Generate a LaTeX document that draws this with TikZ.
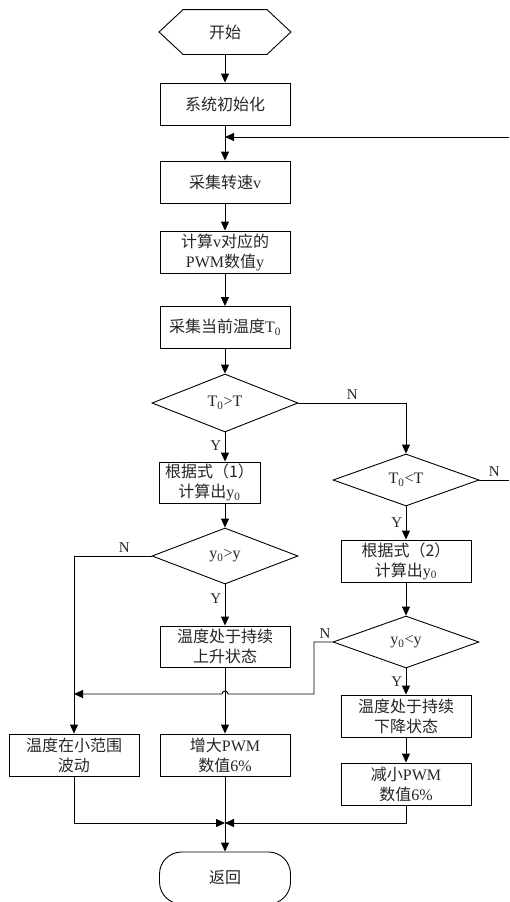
\documentclass[tikz,border=0pt]{standalone}
\usepackage{fontspec}
\setmainfont{Liberation Serif}
\newfontfamily\cjkfont{Noto Sans CJK SC}
\newcommand{\zh}[1]{{\cjkfont #1}}
\usetikzlibrary{shapes.geometric,arrows.meta}

\begin{document}
\begin{tikzpicture}[x=1pt,y=-1pt,line width=0.9pt,
  every node/.style={font=\fontsize{16pt}{20pt}\selectfont,text=black!85},
  box/.style={draw,rectangle,minimum width=130pt,minimum height=42pt,align=center,inner sep=1pt},
  test/.style={draw,diamond,aspect=2.5,inner sep=1pt,minimum width=146pt},
  arr/.style={-{Triangle[length=9pt,width=8pt]}},
  lbl/.style={font=\fontsize{15pt}{17pt}\selectfont}]

\useasboundingbox (0,0) rectangle (509,902);

\node[minimum width=131pt,minimum height=44pt] (start) at (225,32) {\zh{开始}};
\draw (start.west) -- ([xshift=24pt]start.north west) -- ([xshift=-24pt]start.north east)
  -- (start.east) -- ([xshift=-24pt]start.south east) -- ([xshift=24pt]start.south west) -- cycle;

\node[box] (init) at (225,104) {\zh{系统初始化}};
\coordinate (loopin) at (225,137);
\coordinate (loopedge) at (509,137);
\node[box] (speed) at (225,182) {\zh{采集转速}v};
\node[box] (pwm) at (225,252) {\zh{计算}v\zh{对应的}\\PWM\zh{数值}y};
\node[box] (temp) at (225,327.5) {\zh{采集当前温度}T\textsubscript{0}};

\node[test,minimum height=58pt] (cmpa) at (225,403) {T\textsubscript{0}>T};
\node[box,minimum width=101pt,minimum height=41pt] (calca) at (209.5,482.5) {\zh{根据式（1）}\\\zh{计算出}y\textsubscript{0}};
\node[test,minimum height=52pt] (cmpb) at (406,480) {T\textsubscript{0}<T};
\coordinate (edgeb) at (509,480);

\node[test,minimum height=56pt] (cmpc) at (225,556) {y\textsubscript{0}>y};
\node[box] (calcb) at (406,561) {\zh{根据式（2）}\\\zh{计算出}y\textsubscript{0}};
\node[test,minimum height=52pt] (cmpd) at (406,642) {y\textsubscript{0}<y};
\node[box,minimum height=41pt] (rise) at (225,646.5) {\zh{温度处于持续}\\\zh{上升状态}};
\node[box] (fall) at (406,716) {\zh{温度处于持续}\\\zh{下降状态}};
\coordinate (bend) at (314,694);
\coordinate (hop) at (225,694);

\node[box] (flat) at (74,755) {\zh{温度在小范围}\\\zh{波动}};
\node[box] (inc) at (225,755) {\zh{增大}PWM\\\zh{数值}6\%};
\node[box] (dec) at (406,784) {\zh{减小}PWM\\\zh{数值}6\%};
\coordinate (merge) at (225,823);
\node[draw,rounded corners=22pt,minimum width=131pt,minimum height=52pt] (ret) at (225,878) {\zh{返回}};

\draw[arr] (start) -- (init);
\draw[arr] (init) -- (speed);
\draw[arr] (loopedge) -- (loopin);
\draw[arr] (speed) -- (pwm);
\draw[arr] (pwm) -- (temp);
\draw[arr] (temp) -- (cmpa);

\draw[arr] (cmpa) -- node[lbl,left,pos=0.45] {Y} (cmpa |- calca.north);
\draw[arr] (cmpa.east) -- node[lbl,above] {N} (cmpa.east -| cmpb) -- (cmpb);
\draw (cmpb.east) -- node[lbl,above] {N} (edgeb);
\draw[arr] (cmpb) -- node[lbl,left] {Y} (calcb);

\draw[arr] (calca.south -| cmpc) -- (cmpc);
\draw[arr] (calcb) -- (cmpd);
\draw[arr] (cmpc) -- node[lbl,left,pos=0.35] {Y} (rise);
\draw[arr] (cmpc.west) -- node[lbl,above,pos=0.35] {N} (cmpc.west -| flat) -- (flat);
\draw[arr] (cmpd) -- node[lbl,left] {Y} (fall);
\draw[arr] (cmpd.west) -- node[lbl,above,pos=0.4] {N} (cmpd.west -| bend) -- (bend)
  -- ([xshift=3pt]hop) arc[start angle=0,end angle=180,radius=3pt] -- (flat.north |- bend);

\draw[arr] (rise) -- (inc);
\draw[arr] (fall) -- (dec);
\draw[arr] (flat) -- (flat |- merge) -- (merge);
\draw[arr] (dec) -- (dec |- merge) -- (merge);
\draw[arr] (inc) -- (ret);

\end{tikzpicture}
\end{document}
